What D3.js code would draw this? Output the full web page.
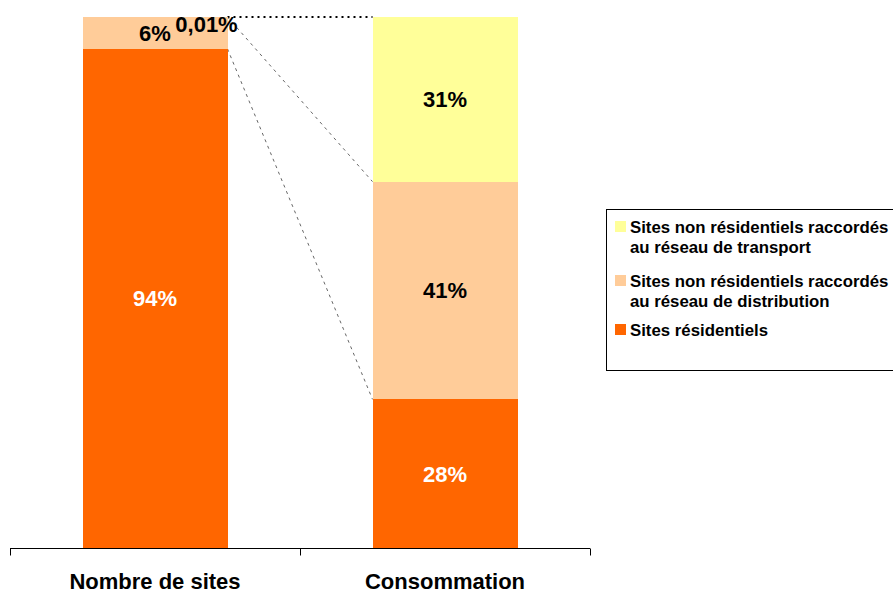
<!DOCTYPE html>
<html>
<head>
<meta charset="utf-8">
<script src="https://cdn.jsdelivr.net/npm/d3@7"></script>
<style>
  html, body { margin: 0; padding: 0; background: #fff; }
  svg { display: block; font-family: "Liberation Sans", Arial, sans-serif; }
</style>
</head>
<body>
<svg id="chart" width="893" height="594"></svg>
<script>
// Categories (x axis)
const categories = ["Nombre de sites", "Consommation"];
// Series, stacked from bottom to top (percent)
const seriesNames = [
  "Sites résidentiels",
  "Sites non résidentiels raccordés au réseau de distribution",
  "Sites non résidentiels raccordés au réseau de transport"
];
const residentiel = [94, 28];
const distribution = [6, 41];
const transport = [0.01, 31];
const valueLabels = [
  ["94%", "28%"],
  ["6%", "41%"],
  ["0,01%", "31%"]
];
const colors = ["#FF6600", "#FFCC99", "#FFFF99"];
const labelColors = ["#FFFFFF", "#000000", "#000000"];
// Legend entries, top to bottom, with their wrapped lines
const legendItems = [
  { series: 2, lines: ["Sites non résidentiels raccordés", "au réseau de transport"] },
  { series: 1, lines: ["Sites non résidentiels raccordés", "au réseau de distribution"] },
  { series: 0, lines: ["Sites résidentiels"] }
];

const svg = d3.select("#chart");

const rows = categories.map((c, i) => ({
  cat: c, s0: residentiel[i], s1: distribution[i], s2: transport[i]
}));
const stack = d3.stack().keys(["s0", "s1", "s2"]);
const layers = stack(rows);

const x = d3.scaleBand().domain(categories).range([10, 590])
  .paddingInner(0.5).paddingOuter(0.25);
const y = d3.scaleLinear().domain([0, 100]).range([548, 17]);

// Connector lines between the two bars at each stack boundary
const bw = x.bandwidth();
const x1 = x(categories[0]) + bw;
const x2 = x(categories[1]);
const boundaries = [
  { k: 2, stroke: "#000", width: 2, dash: "2,4" },
  { k: 1, stroke: "#555", width: 0.9, dash: "3,4" },
  { k: 0, stroke: "#555", width: 0.9, dash: "3,4" }
];
boundaries.forEach(b => {
  svg.append("line")
    .attr("x1", x1).attr("y1", y(layers[b.k][0][1]))
    .attr("x2", x2).attr("y2", y(layers[b.k][1][1]))
    .attr("stroke", b.stroke).attr("stroke-width", b.width)
    .attr("stroke-dasharray", b.dash);
});

// Bars
svg.append("g").selectAll("g").data(layers).join("g")
  .attr("fill", (d, i) => colors[i])
  .selectAll("rect").data(d => d).join("rect")
  .attr("x", d => x(d.data.cat))
  .attr("y", d => y(d[1]))
  .attr("width", bw)
  .attr("height", d => Math.max(0, y(d[0]) - y(d[1])))
  .attr("shape-rendering", "crispEdges");

// Value labels
layers.forEach((layer, si) => {
  layer.forEach((d, ci) => {
    let lx = x(d.data.cat) + bw / 2;
    let ly = (y(d[0]) + y(d[1])) / 2;
    if (si === 2 && ci === 0) { // tiny segment: label set beside the bar top
      lx = x(d.data.cat) + bw - 21;
      ly = y(d[1]) + 7;
    }
    svg.append("text")
      .attr("x", lx).attr("y", ly)
      .attr("dy", "0.36em")
      .attr("text-anchor", "middle")
      .attr("font-size", 22).attr("font-weight", "bold")
      .attr("fill", labelColors[si])
      .text(valueLabels[si][ci]);
  });
});

// X axis
const axisG = svg.append("g").attr("transform", "translate(0,548.5)");
axisG.append("line").attr("x1", 10).attr("x2", 590)
  .attr("stroke", "#000").attr("stroke-width", 1);
const tickPos = [10, ...categories.map(c => x(c) + bw / 2 + x.step() / 2)];
axisG.selectAll("line.tick").data(tickPos).join("line")
  .attr("class", "tick")
  .attr("x1", d => Math.round(d) + 0.5).attr("x2", d => Math.round(d) + 0.5)
  .attr("y1", 0).attr("y2", 7)
  .attr("stroke", "#000");
axisG.selectAll("text").data(categories).join("text")
  .attr("x", d => x(d) + bw / 2)
  .attr("y", 40.5)
  .attr("text-anchor", "middle")
  .attr("font-size", 22).attr("font-weight", "bold")
  .text(d => d);

// Legend
const lg = svg.append("g");
lg.append("rect").attr("x", 606.5).attr("y", 209.5)
  .attr("width", 300).attr("height", 161)
  .attr("fill", "#fff").attr("stroke", "#000").attr("stroke-width", 1);
const legendTops = [221, 275, 324];
legendItems.forEach((item, i) => {
  const top = legendTops[i];
  lg.append("rect").attr("x", 615).attr("y", top)
    .attr("width", 11).attr("height", 11)
    .attr("fill", colors[item.series]);
  item.lines.forEach((ln, j) => {
    lg.append("text")
      .attr("x", 630).attr("y", top + 12 + j * 20)
      .attr("font-size", 16.8).attr("font-weight", "bold")
      .text(ln);
  });
});
</script>
</body>
</html>
